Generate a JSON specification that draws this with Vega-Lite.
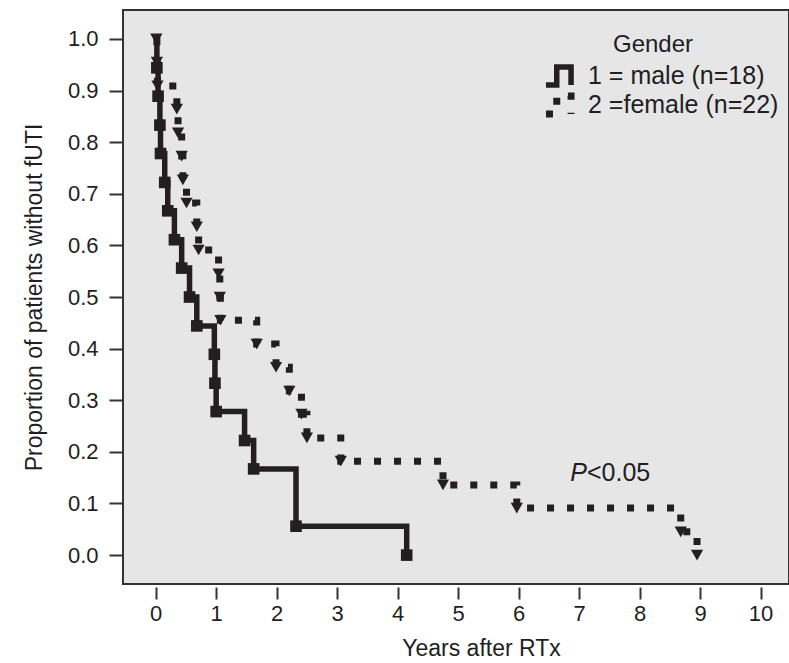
{
  "$schema": "https://vega.github.io/schema/vega-lite/v6.json",
  "width": 666,
  "height": 574,
  "autosize": {"type": "none"},
  "padding": {"left": 123, "top": 10, "right": 0, "bottom": 79},
  "background": "white",
  "config": {
    "font": "Liberation Sans",
    "view": {"stroke": "#333333", "strokeWidth": 2, "fill": "#e6e6e6"},
    "axis": {
      "domain": false,
      "grid": false,
      "tickColor": "#333333",
      "tickWidth": 2,
      "labelColor": "#1e1e24",
      "titleColor": "#1e1e24",
      "labelFontSize": 22,
      "titleFontSize": 23,
      "titleFontWeight": "normal"
    },
    "legend": {
      "labelColor": "#1e1e24",
      "titleColor": "#1e1e24"
    }
  },
  "datasets": {
    "km": [
      {"years": 0.0, "p": 1.0, "gender": "1 = male (n=18)"},
      {"years": 0.02, "p": 0.944, "gender": "1 = male (n=18)"},
      {"years": 0.04, "p": 0.889, "gender": "1 = male (n=18)"},
      {"years": 0.07, "p": 0.833, "gender": "1 = male (n=18)"},
      {"years": 0.08, "p": 0.778, "gender": "1 = male (n=18)"},
      {"years": 0.15, "p": 0.722, "gender": "1 = male (n=18)"},
      {"years": 0.2, "p": 0.667, "gender": "1 = male (n=18)"},
      {"years": 0.31, "p": 0.611, "gender": "1 = male (n=18)"},
      {"years": 0.43, "p": 0.556, "gender": "1 = male (n=18)"},
      {"years": 0.56, "p": 0.5, "gender": "1 = male (n=18)"},
      {"years": 0.68, "p": 0.444, "gender": "1 = male (n=18)"},
      {"years": 0.97, "p": 0.389, "gender": "1 = male (n=18)"},
      {"years": 0.98, "p": 0.333, "gender": "1 = male (n=18)"},
      {"years": 1.0, "p": 0.278, "gender": "1 = male (n=18)"},
      {"years": 1.47, "p": 0.222, "gender": "1 = male (n=18)"},
      {"years": 1.62, "p": 0.167, "gender": "1 = male (n=18)"},
      {"years": 2.32, "p": 0.056, "gender": "1 = male (n=18)"},
      {"years": 4.15, "p": 0.0, "gender": "1 = male (n=18)"},
      {"years": 0.01, "p": 1.0, "gender": "2 =female (n=22)"},
      {"years": 0.02, "p": 0.955, "gender": "2 =female (n=22)"},
      {"years": 0.03, "p": 0.909, "gender": "2 =female (n=22)"},
      {"years": 0.35, "p": 0.864, "gender": "2 =female (n=22)"},
      {"years": 0.37, "p": 0.818, "gender": "2 =female (n=22)"},
      {"years": 0.43, "p": 0.773, "gender": "2 =female (n=22)"},
      {"years": 0.45, "p": 0.727, "gender": "2 =female (n=22)"},
      {"years": 0.51, "p": 0.682, "gender": "2 =female (n=22)"},
      {"years": 0.68, "p": 0.636, "gender": "2 =female (n=22)"},
      {"years": 0.71, "p": 0.591, "gender": "2 =female (n=22)"},
      {"years": 1.04, "p": 0.545, "gender": "2 =female (n=22)"},
      {"years": 1.06, "p": 0.5, "gender": "2 =female (n=22)"},
      {"years": 1.07, "p": 0.455, "gender": "2 =female (n=22)"},
      {"years": 1.67, "p": 0.409, "gender": "2 =female (n=22)"},
      {"years": 1.99, "p": 0.364, "gender": "2 =female (n=22)"},
      {"years": 2.21, "p": 0.318, "gender": "2 =female (n=22)"},
      {"years": 2.41, "p": 0.273, "gender": "2 =female (n=22)"},
      {"years": 2.5, "p": 0.227, "gender": "2 =female (n=22)"},
      {"years": 3.06, "p": 0.182, "gender": "2 =female (n=22)"},
      {"years": 4.75, "p": 0.136, "gender": "2 =female (n=22)"},
      {"years": 5.97, "p": 0.091, "gender": "2 =female (n=22)"},
      {"years": 8.68, "p": 0.045, "gender": "2 =female (n=22)"},
      {"years": 8.95, "p": 0.0, "gender": "2 =female (n=22)"}
    ]
  },
  "layer": [
    {
      "data": {"name": "km"},
      "mark": {"type": "line", "interpolate": "step-after", "strokeCap": "butt", "strokeJoin": "miter", "color": "#231f20"},
      "encoding": {
        "x": {
          "field": "years", "type": "quantitative",
          "scale": {"domain": [-0.54, 10.47], "nice": false, "zero": false},
          "axis": {"values": [0,1,2,3,4,5,6,7,8,9,10], "format": "d", "title": "Years after RTx", "offset": 3, "tickSize": 12, "labelPadding": 4, "titlePadding": 13, "titleX": 358}
        },
        "y": {
          "field": "p", "type": "quantitative",
          "scale": {"domain": [-0.056, 1.056], "nice": false, "zero": false},
          "axis": {"values": [0,0.1,0.2,0.3,0.4,0.5,0.6,0.7,0.8,0.9,1.0], "format": ".1f", "title": "Proportion of patients without fUTI", "tickSize": 14, "labelPadding": 11, "titlePadding": 21}
        },
        "strokeDash": {
          "field": "gender", "type": "nominal",
          "scale": {"domain": ["1 = male (n=18)", "2 =female (n=22)"], "range": [[1, 0], [7, 13]]},
          "legend": {
            "title": "Gender",
            "orient": "none",
            "legendX": 422,
            "legendY": 23,
            "padding": 0,
            "symbolType": "M -1.23 0.82 L -0.25 0.82 L -0.25 -0.82 L 1.05 -0.82 L 1.05 0.82",
            "symbolSize": 484,
            "symbolStrokeWidth": 5,
            "symbolStrokeColor": "#231f20",
            "symbolFillColor": "transparent",
            "clipHeight": 28,
            "labelFontSize": 25,
            "labelLimit": 300,
            "titleFontSize": 24,
            "titleFontWeight": "normal",
            "titleAnchor": "middle",
            "titlePadding": 5,
            "rowPadding": 1,
            "labelOffset": 14,
            "encode": {
              "title": {
                "update": {"dx": {"value": -9}}
              },
              "symbols": {
                "update": {
                  "shape": {"value": "M -1.23 0.82 L -0.25 0.82 L -0.25 -0.82 L 1.05 -0.82 L 1.05 0.82"},
                  "fill": {"value": "transparent"},
                  "stroke": {"value": "#231f20"},
                  "size": {"value": 484}
                }
              }
            }
          }
        },
        "strokeWidth": {
          "field": "gender", "type": "nominal",
          "scale": {"domain": ["1 = male (n=18)", "2 =female (n=22)"], "range": [5.5, 7]},
          "legend": null
        }
      }
    },
    {
      "data": {"name": "km"},
      "transform": [{"filter": "datum.years > 0 && datum.gender == '1 = male (n=18)'"}],
      "mark": {"type": "point", "shape": "square", "size": 135, "filled": true, "opacity": 1, "color": "#231f20", "strokeWidth": 0},
      "encoding": {
        "x": {"field": "years", "type": "quantitative"},
        "y": {"field": "p", "type": "quantitative"}
      }
    },
    {
      "data": {"name": "km"},
      "transform": [{"filter": "datum.gender == '2 =female (n=22)'"}],
      "mark": {"type": "point", "shape": "triangle-down", "size": 150, "filled": true, "opacity": 1, "color": "#231f20", "strokeWidth": 0},
      "encoding": {
        "x": {"field": "years", "type": "quantitative"},
        "y": {"field": "p", "type": "quantitative"}
      }
    },
    {
      "data": {"values": [{"years": 7.13, "p": 0.159, "label": "P"}]},
      "mark": {"type": "text", "align": "right", "baseline": "middle", "fontSize": 25, "fontStyle": "italic", "color": "#1e1e24"},
      "encoding": {
        "x": {"field": "years", "type": "quantitative"},
        "y": {"field": "p", "type": "quantitative"},
        "text": {"field": "label"}
      }
    },
    {
      "data": {"values": [{"years": 7.13, "p": 0.159, "label": "<0.05"}]},
      "mark": {"type": "text", "align": "left", "baseline": "middle", "fontSize": 25, "color": "#1e1e24"},
      "encoding": {
        "x": {"field": "years", "type": "quantitative"},
        "y": {"field": "p", "type": "quantitative"},
        "text": {"field": "label"}
      }
    }
  ]
}
